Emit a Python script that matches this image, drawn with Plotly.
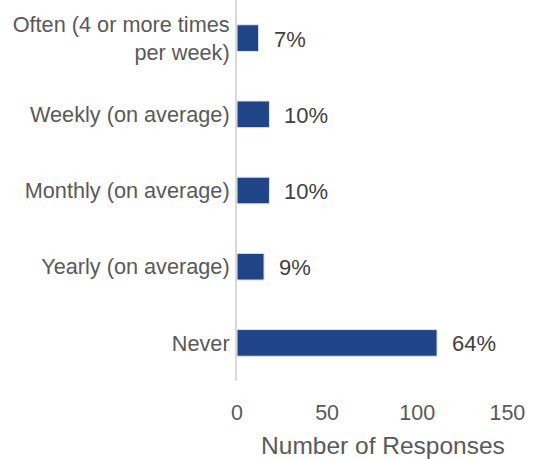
import plotly.graph_objects as go

# Survey answers, top to bottom as displayed
categories = [
    "Often (4 or more times<br>per week)",
    "Weekly (on average)",
    "Monthly (on average)",
    "Yearly (on average)",
    "Never",
]
responses = [12, 18, 18, 15, 111]
x_ticks = [0, 50, 100, 150]

total = sum(responses)
pct_labels = [f"{round(v / total * 100)}%" for v in responses]

BAR_COLOR = "#1f4488"
FONT = "Liberation Sans, Arial, sans-serif"

fig = go.Figure(
    go.Bar(
        x=responses,
        y=categories,
        orientation="h",
        marker=dict(color=BAR_COLOR, line=dict(color="#dfe6f2", width=1)),
        width=0.35,
        hoverinfo="skip",
    )
)

# Percentage labels placed just past the end of each bar
for cat, val, lab in zip(categories, responses, pct_labels):
    fig.add_annotation(
        x=val, y=cat, text=lab, showarrow=False,
        xanchor="left", yanchor="middle", xshift=13, yshift=-1,
        font=dict(family=FONT, size=22, color="#404040"),
    )

fig.update_layout(
    width=533, height=459,
    margin=dict(l=237, r=4, t=0, b=78),
    paper_bgcolor="white", plot_bgcolor="white",
    showlegend=False,
    font=dict(family=FONT, color="#595959", size=21),
    xaxis=dict(
        range=[0, 162],
        tickvals=x_ticks,
        showgrid=False, zeroline=False, showline=False,
        ticks="outside", ticklen=12, tickcolor="rgba(0,0,0,0)",
        tickfont=dict(size=21.5, color="#595959"),
        title=dict(text="Number of Responses", standoff=13,
                   font=dict(size=24.5, color="#595959")),
    ),
    yaxis=dict(
        categoryorder="array",
        categoryarray=categories[::-1],
        showgrid=False, zeroline=False,
        showline=True, linecolor="#d9d9d9", linewidth=2,
        ticks="outside", ticklen=1, tickcolor="rgba(0,0,0,0)",
        tickfont=dict(size=21.7, color="#595959"),
    ),
)

fig.write_html("out.html")
